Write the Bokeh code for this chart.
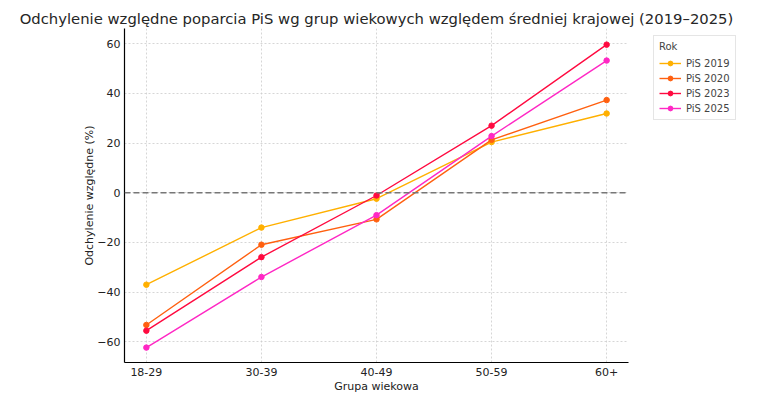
from bokeh.plotting import figure
from bokeh.models import ColumnDataSource, Legend, LegendItem, FixedTicker, Span, Range1d
from bokeh.embed import file_html
from bokeh.resources import INLINE

categories = ["18-29", "30-39", "40-49", "50-59", "60+"]
series_names = ["PiS 2019", "PiS 2020", "PiS 2023", "PiS 2025"]
pis_2019 = [-37.0, -14.0, -2.4, 20.4, 31.9]
pis_2020 = [-53.2, -20.9, -10.7, 21.3, 37.3]
pis_2023 = [-55.5, -25.9, -1.1, 27.0, 59.6]
pis_2025 = [-62.3, -33.9, -9.0, 22.8, 53.2]
colors = ["#FFB000", "#FF6010", "#FF0A40", "#FF28C4"]
y_ticks = [-60, -40, -20, 0, 20, 40, 60]

FONT = "DejaVu Sans"
x_idx = list(range(len(categories)))

p = figure(width=765, height=382, output_backend="svg", toolbar_location=None,
           x_range=Range1d(-0.19, len(categories) - 1 + 0.19),
           y_range=Range1d(-68.3, 66.1),
           title="Odchylenie względne poparcia PiS wg grup wiekowych względem średniej krajowej (2019–2025)")
p.frame_width = 504
p.frame_height = 334
p.min_border_left = 124
p.min_border_right = 10
p.min_border_top = 28
p.min_border_bottom = 5

p.title.align = "center"
p.title.text_font = FONT
p.title.text_font_size = "14.8px"
p.title.text_font_style = "normal"
p.title.text_color = "#262626"
p.title.standoff = 3

p.outline_line_color = None
for ax in (p.xaxis, p.yaxis):
    ax.axis_line_color = "black"
    ax.axis_line_width = 1.2
    ax.major_tick_line_color = None
    ax.minor_tick_line_color = None
    ax.major_tick_out = 0
    ax.major_tick_in = 0
    ax.minor_tick_out = 0
    ax.minor_tick_in = 0
    ax.major_label_text_font = FONT
    ax.major_label_text_font_size = "11px"
    ax.major_label_text_color = "#222222"
    ax.axis_label_text_font = FONT
    ax.axis_label_text_font_size = "11px"
    ax.axis_label_text_font_style = "normal"
    ax.axis_label_text_color = "#222222"

p.xaxis.ticker = FixedTicker(ticks=x_idx)
p.xaxis.major_label_overrides = {i: c for i, c in zip(x_idx, categories)}
p.xaxis.axis_label = "Grupa wiekowa"
p.xaxis.major_label_standoff = 5
p.xaxis.axis_label_standoff = 1

p.yaxis.ticker = FixedTicker(ticks=y_ticks)
p.yaxis.major_label_overrides = {t: (str(t).replace("-", "\u2212")) for t in y_ticks}
p.yaxis.axis_label = "Odchylenie względne (%)"
p.yaxis.major_label_standoff = 4
p.yaxis.axis_label_standoff = -2

for g in (p.xgrid, p.ygrid):
    g.grid_line_color = "#cccccc"
    g.grid_line_dash = "2 2"
    g.grid_line_width = 0.8

zero = Span(location=0, dimension="width", line_color="#777777",
            line_dash="6 3", line_width=1.3)
p.add_layout(zero)

items = []
for name, vals, col in zip(series_names, [pis_2019, pis_2020, pis_2023, pis_2025], colors):
    src = ColumnDataSource(dict(x=x_idx, y=vals))
    r1 = p.line("x", "y", source=src, line_color=col, line_width=1.4)
    r2 = p.scatter("x", "y", source=src, fill_color=col, line_color=col, size=5.5)
    items.append(LegendItem(label=name, renderers=[r1, r2]))

legend = Legend(items=items, title="Rok", location=(25, 242))
legend.title_text_font = FONT
legend.title_text_font_size = "10px"
legend.title_text_font_style = "normal"
legend.label_text_font = FONT
legend.label_text_font_size = "10px"
legend.label_height = 12
legend.glyph_height = 12
legend.glyph_width = 22
legend.spacing = 3
legend.padding = 5
legend.margin = 0
legend.border_line_color = "#cccccc"
legend.border_line_width = 1
legend.background_fill_alpha = 1.0
p.add_layout(legend, "right")

open("out.html", "w").write(file_html(p, INLINE))
